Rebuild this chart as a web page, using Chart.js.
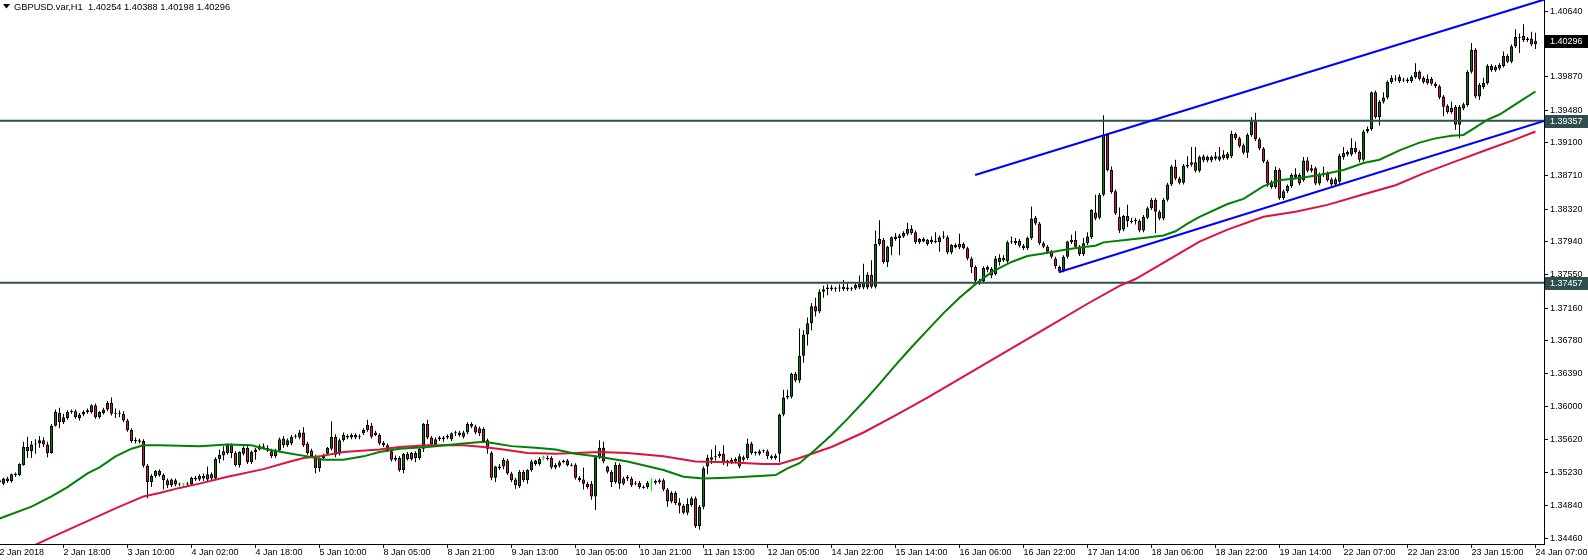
<!DOCTYPE html>
<html><head><meta charset="utf-8">
<script src="https://cdn.jsdelivr.net/npm/chart.js@4.4.1/dist/chart.umd.min.js"></script>
<style>html,body{margin:0;padding:0;background:#fff;}canvas{display:block;}</style>
</head><body>
<canvas id="c" width="1588" height="560"></canvas>
<script>
const symbolTitle = 'GBPUSD.var,H1';

const opens = [
1.3512,1.3510,1.3516,1.3513,1.3520,1.3520,1.3532,1.3553,1.3548,1.3556,
1.3557,1.3561,1.3556,1.3546,1.3578,1.3593,1.3582,1.3587,1.3594,1.3595,
1.3587,1.3591,1.3594,1.3594,1.3602,1.3588,1.3593,1.3597,1.3605,1.3592,
1.3593,1.3592,1.3584,1.3573,1.3560,1.3561,1.3560,1.3531,1.3512,1.3519,
1.3525,1.3520,1.3514,1.3508,1.3514,1.3509,1.3509,1.3510,1.3509,1.3517,
1.3515,1.3519,1.3515,1.3521,1.3516,1.3539,1.3543,1.3546,1.3555,1.3546,
1.3532,1.3545,1.3552,1.3535,1.3547,1.3550,1.3554,1.3552,1.3548,1.3542,
1.3549,1.3563,1.3555,1.3557,1.3565,1.3564,1.3570,1.3557,1.3549,1.3542,
1.3528,1.3540,1.3545,1.3551,1.3565,1.3545,1.3561,1.3566,1.3564,1.3567,
1.3565,1.3569,1.3573,1.3578,1.3570,1.3567,1.3558,1.3555,1.3548,1.3540,
1.3540,1.3526,1.3545,1.3539,1.3546,1.3540,1.3551,1.3580,1.3564,1.3556,
1.3562,1.3564,1.3564,1.3562,1.3569,1.3567,1.3565,1.3570,1.3580,1.3577,
1.3575,1.3574,1.3561,1.3546,1.3517,1.3530,1.3530,1.3537,1.3522,1.3515,
1.3507,1.3524,1.3514,1.3526,1.3533,1.3533,1.3540,1.3540,1.3540,1.3532,
1.3531,1.3535,1.3537,1.3532,1.3532,1.3517,1.3515,1.3510,1.3510,1.3495,
1.3541,1.3552,1.3530,1.3524,1.3512,1.3532,1.3510,1.3516,1.3516,1.3511,
1.3511,1.3506,1.3506,1.3511,1.3511,1.3512,1.3514,1.3503,1.3489,1.3499,
1.3488,1.3484,1.3476,1.3485,1.3493,1.3460,1.3483,1.3530,1.3538,1.3541,
1.3542,1.3545,1.3535,1.3535,1.3536,1.3530,1.3538,1.3540,1.3557,1.3546,
1.3545,1.3548,1.3548,1.3542,1.3540,1.3545,1.3591,1.3611,1.3612,1.3639,
1.3631,1.3660,1.3685,1.3698,1.3718,1.3712,1.3735,1.3738,1.3740,1.3738,
1.3739,1.3738,1.3740,1.3739,1.3739,1.3740,1.3745,1.3740,1.3755,1.3741,
1.3791,1.3796,1.3770,1.3788,1.3797,1.3798,1.3800,1.3803,1.3809,1.3805,
1.3793,1.3797,1.3791,1.3796,1.3795,1.3793,1.3799,1.3799,1.3781,1.3790,
1.3787,1.3791,1.3786,1.3774,1.3764,1.3748,1.3747,1.3761,1.3762,1.3756,
1.3770,1.3775,1.3771,1.3793,1.3792,1.3795,1.3789,1.3786,1.3798,1.3822,
1.3815,1.3792,1.3788,1.3782,1.3774,1.3764,1.3760,1.3776,1.3793,1.3796,
1.3788,1.3779,1.3792,1.3799,1.3828,1.3822,1.3849,1.3919,1.3878,1.3853,
1.3823,1.3808,1.3824,1.3818,1.3818,1.3818,1.3807,1.3822,1.3833,1.3843,
1.3829,1.3821,1.3843,1.3861,1.3882,1.3868,1.3863,1.3882,1.3884,1.3887,
1.3877,1.3894,1.3889,1.3893,1.3891,1.3890,1.3892,1.3897,1.3894,1.3920,
1.3915,1.3907,1.3898,1.3919,1.3935,1.3914,1.3903,1.3888,1.3864,1.3858,
1.3878,1.3845,1.3853,1.3859,1.3869,1.3872,1.3866,1.3889,1.3877,1.3880,
1.3862,1.3872,1.3874,1.3867,1.3861,1.3864,1.3893,1.3899,1.3896,1.3904,
1.3899,1.3890,1.3923,1.3926,1.3969,1.3940,1.3958,1.3963,1.3981,1.3985,
1.3982,1.3984,1.3984,1.3982,1.3987,1.3993,1.3986,1.3985,1.3985,1.3979,
1.3976,1.3964,1.3953,1.3946,1.3952,1.3931,1.3950,1.3954,1.3993,1.4019,
1.3964,1.3975,1.3980,1.4000,1.3995,1.3997,1.4000,1.4012,1.4005,1.4023,
1.4034,1.4035,1.4032,1.4032,1.40254];

const highs = [
1.3518,1.3517,1.3518,1.3522,1.3523,1.3534,1.3559,1.3565,1.3560,1.3562,
1.3566,1.3564,1.3559,1.3580,1.3597,1.3599,1.3592,1.3596,1.3597,1.3597,
1.3593,1.3596,1.3598,1.3603,1.3604,1.3595,1.3599,1.3607,1.3611,1.3598,
1.3596,1.3595,1.3586,1.3575,1.3564,1.3563,1.3562,1.3533,1.3521,1.3526,
1.3527,1.3522,1.3516,1.3516,1.3516,1.3511,1.3511,1.3512,1.3518,1.3519,
1.3521,1.3522,1.3530,1.3523,1.3541,1.3550,1.3554,1.3557,1.3557,1.3548,
1.3548,1.3554,1.3555,1.3549,1.3552,1.3556,1.3557,1.3555,1.3551,1.3551,
1.3564,1.3566,1.3563,1.3567,1.3568,1.3573,1.3576,1.3559,1.3551,1.3544,
1.3541,1.3545,1.3553,1.3583,1.3568,1.3563,1.3570,1.3568,1.3569,1.3569,
1.3568,1.3575,1.3585,1.3581,1.3572,1.3569,1.3560,1.3557,1.3550,1.3543,
1.3542,1.3546,1.3547,1.3547,1.3548,1.3553,1.3581,1.3585,1.3566,1.3564,
1.3566,1.3566,1.3568,1.3570,1.3572,1.3572,1.3572,1.3582,1.3582,1.3579,
1.3577,1.3576,1.3563,1.3548,1.3531,1.3533,1.3540,1.3539,1.3524,1.3517,
1.3526,1.3526,1.3527,1.3538,1.3538,1.3541,1.3543,1.3543,1.3542,1.3534,
1.3537,1.3538,1.3539,1.3534,1.3534,1.3519,1.3529,1.3512,1.3513,1.3543,
1.3561,1.3559,1.3531,1.3526,1.3535,1.3534,1.3518,1.3520,1.3518,1.3513,
1.3513,1.3508,1.3513,1.3517,1.3515,1.3516,1.3516,1.3505,1.3501,1.3501,
1.3493,1.3486,1.3493,1.3495,1.3495,1.3485,1.3530,1.3544,1.3550,1.3555,
1.3548,1.3555,1.3538,1.3540,1.3541,1.3545,1.3543,1.3563,1.3559,1.3548,
1.3550,1.3550,1.3550,1.3544,1.3545,1.3592,1.3620,1.3620,1.3640,1.3641,
1.3692,1.3690,1.3705,1.3722,1.3728,1.3738,1.3742,1.3744,1.3743,1.3741,
1.3744,1.3749,1.3745,1.3741,1.3746,1.3754,1.3768,1.3758,1.3772,1.3807,
1.3819,1.3798,1.3789,1.3800,1.3804,1.3803,1.3806,1.3816,1.3813,1.3807,
1.3798,1.3799,1.3797,1.3800,1.3805,1.3801,1.3806,1.3801,1.3791,1.3792,
1.3803,1.3793,1.3788,1.3776,1.3766,1.3750,1.3765,1.3766,1.3764,1.3777,
1.3779,1.3778,1.3795,1.3800,1.3798,1.3797,1.3791,1.3800,1.3835,1.3824,
1.3817,1.3794,1.3790,1.3784,1.3776,1.3766,1.3778,1.3795,1.3802,1.3806,
1.3790,1.3798,1.3805,1.3832,1.3849,1.3851,1.3942,1.3921,1.3882,1.3855,
1.3834,1.3825,1.3837,1.3822,1.3822,1.3820,1.3825,1.3835,1.3845,1.3845,
1.3831,1.3845,1.3863,1.3884,1.3890,1.3870,1.3885,1.3894,1.3905,1.3905,
1.3895,1.3896,1.3895,1.3895,1.3899,1.3905,1.3901,1.3899,1.3924,1.3922,
1.3917,1.3909,1.3921,1.3940,1.3945,1.3916,1.3905,1.3890,1.3866,1.3882,
1.3880,1.3855,1.3861,1.3874,1.3880,1.3874,1.3893,1.3893,1.3884,1.3882,
1.3875,1.3882,1.3876,1.3869,1.3869,1.3897,1.3905,1.3901,1.3915,1.3911,
1.3901,1.3925,1.3929,1.3970,1.3971,1.3960,1.3969,1.3983,1.3989,1.3989,
1.3990,1.3986,1.3986,1.3989,1.4003,1.3995,1.3988,1.3990,1.3987,1.3981,
1.3978,1.3966,1.3955,1.3958,1.3954,1.3954,1.3957,1.3995,1.4027,1.4021,
1.3980,1.3986,1.4002,1.4002,1.4001,1.4003,1.4017,1.4014,1.4025,1.4043,
1.4038,1.4049,1.4034,1.4040,1.40388];

const lows = [
1.3509,1.3508,1.3511,1.3511,1.3518,1.3519,1.3531,1.3540,1.3540,1.3545,
1.3552,1.3553,1.3541,1.3545,1.3577,1.3575,1.3580,1.3585,1.3592,1.3586,
1.3584,1.3589,1.3592,1.3592,1.3586,1.3586,1.3591,1.3595,1.3590,1.3587,
1.3588,1.3582,1.3571,1.3558,1.3557,1.3557,1.3529,1.3493,1.3506,1.3517,
1.3518,1.3503,1.3505,1.3506,1.3507,1.3507,1.3507,1.3507,1.3508,1.3513,
1.3513,1.3513,1.3513,1.3514,1.3514,1.3534,1.3537,1.3544,1.3540,1.3530,
1.3529,1.3543,1.3533,1.3533,1.3538,1.3549,1.3550,1.3547,1.3540,1.3540,
1.3547,1.3552,1.3553,1.3555,1.3563,1.3562,1.3553,1.3544,1.3540,1.3522,
1.3524,1.3538,1.3543,1.3549,1.3541,1.3543,1.3559,1.3562,1.3562,1.3562,
1.3562,1.3567,1.3571,1.3563,1.3566,1.3555,1.3553,1.3547,1.3536,1.3536,
1.3524,1.3522,1.3537,1.3537,1.3535,1.3538,1.3547,1.3562,1.3554,1.3554,
1.3560,1.3559,1.3562,1.3560,1.3566,1.3565,1.3563,1.3568,1.3575,1.3568,
1.3566,1.3558,1.3545,1.3514,1.3512,1.3526,1.3527,1.3520,1.3512,1.3504,
1.3505,1.3512,1.3510,1.3524,1.3531,1.3531,1.3537,1.3537,1.3527,1.3527,
1.3529,1.3534,1.3530,1.3530,1.3515,1.3512,1.3503,1.3504,1.3491,1.3479,
1.3539,1.3534,1.3522,1.3506,1.3510,1.3504,1.3508,1.3513,1.3506,1.3508,
1.3504,1.3504,1.3504,1.3501,1.3509,1.3510,1.3501,1.3483,1.3487,1.3485,
1.3475,1.3474,1.3473,1.3483,1.3458,1.3456,1.3480,1.3521,1.3533,1.3537,
1.3540,1.3532,1.3530,1.3533,1.3534,1.3528,1.3536,1.3538,1.3544,1.3543,
1.3543,1.3546,1.3539,1.3538,1.3538,1.3535,1.3589,1.3609,1.3610,1.3629,
1.3628,1.3652,1.3672,1.3690,1.3706,1.3710,1.3728,1.3731,1.3736,1.3735,
1.3735,1.3736,1.3736,1.3736,1.3737,1.3738,1.3738,1.3738,1.3739,1.3739,
1.3789,1.3768,1.3764,1.3778,1.3795,1.3778,1.3798,1.3801,1.3802,1.3791,
1.3791,1.3793,1.3789,1.3791,1.3792,1.3782,1.3797,1.3779,1.3779,1.3786,
1.3785,1.3785,1.3772,1.3757,1.3743,1.3743,1.3745,1.3758,1.3751,1.3754,
1.3766,1.3770,1.3768,1.3791,1.3790,1.3787,1.3784,1.3784,1.3796,1.3813,
1.3790,1.3786,1.3780,1.3774,1.3762,1.3757,1.3758,1.3774,1.3791,1.3786,
1.3777,1.3777,1.3790,1.3797,1.3819,1.3820,1.3847,1.3876,1.3850,1.3825,
1.3804,1.3806,1.3811,1.3815,1.3814,1.3805,1.3805,1.3820,1.3831,1.3804,
1.3819,1.3819,1.3841,1.3859,1.3866,1.3861,1.3861,1.3880,1.3882,1.3875,
1.3875,1.3887,1.3887,1.3887,1.3889,1.3888,1.3890,1.3890,1.3892,1.3913,
1.3904,1.3896,1.3892,1.3917,1.3912,1.3901,1.3886,1.3858,1.3856,1.3856,
1.3843,1.3843,1.3851,1.3857,1.3867,1.3860,1.3864,1.3875,1.3875,1.3860,
1.3860,1.3870,1.3864,1.3859,1.3859,1.3860,1.3890,1.3894,1.3894,1.3897,
1.3887,1.3888,1.3921,1.3924,1.3938,1.3930,1.3956,1.3961,1.3979,1.3982,
1.3980,1.3981,1.3980,1.3980,1.3985,1.3983,1.3979,1.3978,1.3977,1.3974,
1.3961,1.3941,1.3944,1.3944,1.3925,1.3915,1.3948,1.3952,1.3991,1.3962,
1.3960,1.3973,1.3978,1.3993,1.3993,1.3995,1.3998,1.4003,1.4003,1.4021,
1.4015,1.4028,1.4028,1.4023,1.40198];

const closes = [
1.3514,1.3516,1.3513,1.3521,1.3521,1.3533,1.3553,1.3548,1.3556,1.3557,
1.3561,1.3556,1.3546,1.3578,1.3594,1.3582,1.3588,1.3594,1.3595,1.3588,
1.3591,1.3594,1.3596,1.3602,1.3588,1.3594,1.3597,1.3605,1.3592,1.3593,
1.3592,1.3584,1.3573,1.3560,1.3561,1.3559,1.3531,1.3512,1.3519,1.3525,
1.3520,1.3514,1.3508,1.3515,1.3509,1.3510,1.3509,1.3509,1.3517,1.3515,
1.3519,1.3516,1.3521,1.3516,1.3539,1.3544,1.3548,1.3555,1.3546,1.3532,
1.3547,1.3552,1.3535,1.3547,1.3550,1.3554,1.3552,1.3549,1.3542,1.3549,
1.3562,1.3555,1.3561,1.3565,1.3566,1.3570,1.3555,1.3546,1.3542,1.3528,
1.3540,1.3543,1.3552,1.3565,1.3544,1.3561,1.3567,1.3564,1.3567,1.3564,
1.3566,1.3573,1.3579,1.3565,1.3567,1.3557,1.3555,1.3549,1.3538,1.3538,
1.3526,1.3545,1.3539,1.3546,1.3540,1.3551,1.3580,1.3564,1.3556,1.3562,
1.3564,1.3562,1.3566,1.3569,1.3570,1.3570,1.3570,1.3580,1.3577,1.3570,
1.3569,1.3560,1.3551,1.3517,1.3530,1.3528,1.3538,1.3522,1.3514,1.3508,
1.3524,1.3514,1.3526,1.3536,1.3537,1.3539,1.3540,1.3539,1.3529,1.3529,
1.3535,1.3537,1.3532,1.3531,1.3517,1.3514,1.3510,1.3506,1.3495,1.3541,
1.3552,1.3536,1.3524,1.3512,1.3532,1.3510,1.3516,1.3518,1.3508,1.3510,
1.3506,1.3505,1.3511,1.3511,1.3513,1.3514,1.3503,1.3489,1.3499,1.3487,
1.3484,1.3476,1.3486,1.3493,1.3460,1.3483,1.3528,1.3540,1.3541,1.3542,
1.3545,1.3535,1.3537,1.3538,1.3539,1.3542,1.3541,1.3557,1.3546,1.3547,
1.3548,1.3549,1.3542,1.3540,1.3543,1.3591,1.3611,1.3613,1.3639,1.3631,
1.3660,1.3685,1.3698,1.3718,1.3712,1.3735,1.3738,1.3740,1.3738,1.3739,
1.3740,1.3741,1.3738,1.3738,1.3743,1.3745,1.3740,1.3755,1.3741,1.3791,
1.3797,1.3770,1.3788,1.3799,1.3800,1.3801,1.3804,1.3809,1.3804,1.3793,
1.3797,1.3794,1.3796,1.3793,1.3793,1.3799,1.3800,1.3781,1.3790,1.3787,
1.3791,1.3786,1.3774,1.3764,1.3748,1.3746,1.3763,1.3764,1.3754,1.3774,
1.3775,1.3772,1.3793,1.3794,1.3795,1.3789,1.3786,1.3798,1.3821,1.3815,
1.3792,1.3788,1.3782,1.3776,1.3765,1.3759,1.3776,1.3794,1.3796,1.3788,
1.3779,1.3792,1.3800,1.3831,1.3821,1.3849,1.3919,1.3878,1.3852,1.3827,
1.3807,1.3824,1.3818,1.3817,1.3819,1.3807,1.3823,1.3833,1.3843,1.3829,
1.3821,1.3843,1.3861,1.3882,1.3868,1.3863,1.3883,1.3884,1.3887,1.3877,
1.3893,1.3889,1.3893,1.3889,1.3894,1.3894,1.3896,1.3892,1.3920,1.3915,
1.3906,1.3898,1.3919,1.3935,1.3914,1.3903,1.3888,1.3862,1.3858,1.3878,
1.3845,1.3853,1.3859,1.3872,1.3873,1.3862,1.3889,1.3877,1.3880,1.3862,
1.3873,1.3874,1.3866,1.3861,1.3867,1.3895,1.3898,1.3896,1.3904,1.3899,
1.3890,1.3923,1.3926,1.3969,1.3940,1.3958,1.3963,1.3981,1.3986,1.3984,
1.3987,1.3983,1.3982,1.3987,1.3993,1.3985,1.3981,1.3980,1.3979,1.3976,
1.3963,1.3952,1.3946,1.3951,1.3931,1.3952,1.3955,1.3993,1.4019,1.3964,
1.3978,1.3980,1.4000,1.3995,1.3999,1.4001,1.4012,1.4005,1.4023,1.4034,
1.4033,1.4030,1.4030,1.4025,1.40296];

// moving averages (bar index, price)
const maGreenX = [0,8,13,17,22,25,29,33,36,40,50,57,63,67,73,77,81,86,91,95,100,107,116,121,124,128,134,139,144,149,157,166,171,176,182,190,194,197,200,204,208,212,216,220,224,228,232,236,240,244,248,253,257,261,266,270,274,276,282,286,291,294,297,300,307,311,316,320,326,331,336,341,345,350,355,359,363,366,369,372,375,378,381,384];
const maGreenY = [1.3469,1.3483,1.3495,1.3506,1.3522,1.3529,1.3542,1.3551,1.3555,1.3555,1.3554,1.3556,1.3555,1.3550,1.3545,1.3542,1.3538,1.3538,1.3542,1.3547,1.3551,1.3553,1.3557,1.3559,1.3557,1.3554,1.3552,1.3550,1.3545,1.3542,1.3536,1.3526,1.3518,1.3516,1.3517,1.3519,1.3520,1.3528,1.3534,1.3550,1.3567,1.3586,1.3606,1.3627,1.3649,1.3670,1.3690,1.3710,1.3728,1.3744,1.3758,1.3770,1.3777,1.3780,1.3784,1.3787,1.3789,1.3793,1.3796,1.3798,1.3801,1.3806,1.3815,1.3823,1.3838,1.3844,1.3859,1.3866,1.3869,1.3873,1.3878,1.3886,1.3890,1.3901,1.3910,1.3915,1.3918,1.3919,1.3928,1.3937,1.3943,1.3952,1.3961,1.3970];
const maRedX = [0,12,21,29,36,40,45,50,57,66,72,76,80,86,95,100,107,116,121,126,132,139,144,150,157,166,174,182,191,195,200,208,216,224,232,240,248,256,264,272,280,284,292,300,307,316,324,332,340,349,356,364,372,378,384];
const maRedY = [1.3418,1.3445,1.3464,1.3481,1.3495,1.3499,1.3505,1.3510,1.3518,1.3527,1.3535,1.3540,1.3542,1.3547,1.3550,1.3553,1.3555,1.3555,1.3553,1.3550,1.3546,1.3545,1.3546,1.3547,1.3546,1.3542,1.3536,1.3535,1.3533,1.3533,1.3540,1.3553,1.3570,1.3590,1.3611,1.3633,1.3655,1.3677,1.3699,1.3721,1.3742,1.3750,1.3772,1.3794,1.3808,1.3823,1.3829,1.3837,1.3848,1.3860,1.3874,1.3888,1.3902,1.3912,1.3923];

// trend lines (bar index, price)
const upperTrendX = [243.9, 386.5];
const upperTrendY = [1.3872, 1.40783];
const lowerTrendX = [264.8, 386.1];
const lowerTrendY = [1.3758, 1.39353];
const hLevels = [1.39357, 1.37457];

const xTickBars = [0,16,32,48,64,80,96,112,128,144,160,176,192,208,224,240,256,272,288,304,320,336,352,368,384];
const xTickLabels = ['2 Jan 2018','2 Jan 18:00','3 Jan 10:00','4 Jan 02:00','4 Jan 18:00','5 Jan 10:00','8 Jan 05:00','8 Jan 21:00','9 Jan 13:00','10 Jan 05:00','10 Jan 21:00','11 Jan 13:00','12 Jan 05:00','14 Jan 22:00','15 Jan 14:00','16 Jan 06:00','16 Jan 22:00','17 Jan 14:00','18 Jan 06:00','18 Jan 22:00','19 Jan 14:00','22 Jan 07:00','22 Jan 23:00','23 Jan 15:00','24 Jan 07:00'];
const yTickValues = [1.40640,1.40250,1.39870,1.39480,1.39100,1.38710,1.38320,1.37940,1.37550,1.37160,1.36780,1.36390,1.36000,1.35620,1.35230,1.34840,1.34460];

const X_MIN = 0.125, X_MAX = 386.125;
const Y_MIN = 1.34392, Y_MAX = 1.40773;

const BULL = '#008000', BEAR = '#DC143C', DOJI = '#00FF00';
const FONT = '"Liberation Sans", Arial, sans-serif';
Chart.defaults.font.family = FONT;
Chart.defaults.font.size = 9;
Chart.defaults.color = '#000';

const last = opens.length - 1;
const isDoji = i => closes[i] === opens[i];
const wickData = opens.map((o, i) => ({x: i, y: [lows[i], highs[i]]}));
const bodyData = opens.map((o, i) => ({x: i, y: [opens[i], closes[i]]}));
const bodyColors = opens.map((o, i) => isDoji(i) ? DOJI : (closes[i] > opens[i] ? BULL : BEAR));
const bodyBorders = opens.map((o, i) => isDoji(i) ? DOJI : '#000');
const wickColors = opens.map((o, i) => isDoji(i) ? DOJI : '#000');
const pts = (xs, ys) => xs.map((x, k) => ({x, y: ys[k]}));

const lineDs = (data, color, order) => ({
  type: 'line', data, borderColor: color, borderWidth: 2, pointRadius: 0,
  tension: 0, fill: false, order, clip: 0
});

const datasets = [
  lineDs(pts(maGreenX, maGreenY), '#008000', 1),
  lineDs(pts(maRedX, maRedY), '#DC143C', 2),
  lineDs(pts(upperTrendX, upperTrendY), '#0000FF', 3),
  lineDs(pts(lowerTrendX, lowerTrendY), '#0000FF', 3),
  ...hLevels.map(v => lineDs([{x: X_MIN, y: v}, {x: X_MAX, y: v}], '#2F4F4F', 4)),
  { type: 'bar', data: bodyData, backgroundColor: bodyColors, borderColor: bodyBorders, borderWidth: 1,
    borderSkipped: false, barThickness: 3, minBarLength: 1, grouped: false, inflateAmount: 0, order: 9 },
  { type: 'bar', data: wickData, backgroundColor: wickColors, borderWidth: 0,
    barThickness: 1, grouped: false, inflateAmount: 0, order: 10 }
];

const overlay = {
  id: 'overlay',
  afterDraw(chart) {
    const ctx = chart.ctx, ys = chart.scales.y, area = chart.chartArea;
    ctx.save();
    ctx.fillStyle = '#000';
    ctx.beginPath(); ctx.moveTo(3, 4); ctx.lineTo(10, 4); ctx.lineTo(6.5, 8.5); ctx.closePath(); ctx.fill();
    ctx.font = '9.3px ' + FONT; ctx.textBaseline = 'middle'; ctx.textAlign = 'left';
    const hdr = symbolTitle + '  ' + [opens[last], highs[last], lows[last], closes[last]].map(v => v.toFixed(5)).join(' ');
    ctx.fillText(hdr, 14, 7);
    ctx.font = '9px ' + FONT;
    const tags = [{v: closes[last], bg: '#000'}].concat(hLevels.map(v => ({v, bg: '#2F4F4F'})));
    tags.forEach(t => {
      const py = Math.round(ys.getPixelForValue(t.v));
      ctx.fillStyle = t.bg;
      ctx.fillRect(area.right + 1, py - 6, chart.width - area.right - 1, 13);
      ctx.fillStyle = '#fff';
      ctx.fillText(t.v.toFixed(5), area.right + 6, py + 0.5);
    });
    ctx.restore();
  }
};

new Chart(document.getElementById('c'), {
  type: 'bar',
  data: { datasets },
  options: {
    responsive: false, animation: false, devicePixelRatio: 1,
    layout: { padding: 0 },
    plugins: { legend: { display: false }, tooltip: { enabled: false } },
    scales: {
      x: {
        type: 'linear', position: 'bottom', min: X_MIN, max: X_MAX, offset: false, bounds: 'data',
        afterBuildTicks: s => { s.ticks = xTickBars.map(v => ({value: v})); },
        afterFit: s => { s.height = 16; s.paddingLeft = 0; s.paddingRight = 0; },
        ticks: { autoSkip: false, maxRotation: 0, minRotation: 0, align: 'start', padding: -1,
                 callback: v => xTickLabels[xTickBars.indexOf(v)] },
        grid: { drawOnChartArea: false, offset: false, tickLength: 4, color: '#000' },
        border: { color: '#000', width: 1 }
      },
      y: {
        type: 'linear', position: 'right', min: Y_MIN, max: Y_MAX, bounds: 'data',
        afterBuildTicks: s => { s.ticks = yTickValues.map(v => ({value: v})); },
        afterFit: s => { s.width = 44; s.paddingTop = 0; s.paddingBottom = 0; },
        ticks: { autoSkip: false, padding: 2, callback: v => v.toFixed(5) },
        grid: { drawOnChartArea: false, tickLength: 4, color: '#000' },
        border: { color: '#000', width: 1 }
      }
    }
  },
  plugins: [overlay]
});
</script>
</body></html>
